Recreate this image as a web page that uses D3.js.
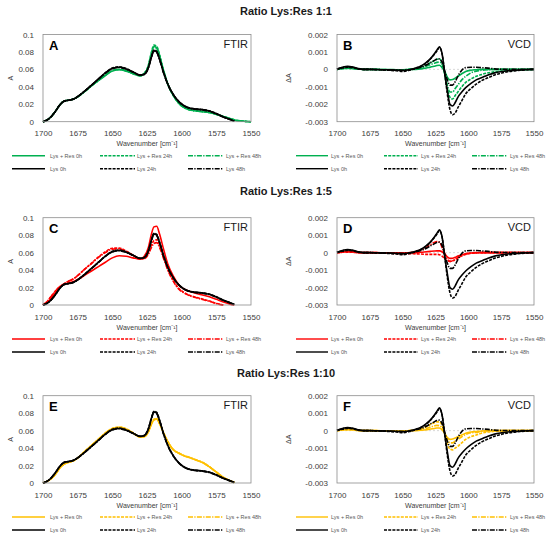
<!DOCTYPE html>
<html>
<head>
  <meta charset="utf-8">
  <script src="https://d3js.org/d3.v7.min.js"></script>
  <style>
    body { margin: 0; background: #ffffff; font-family: "Liberation Sans", Arial, sans-serif; }
    .title { font-weight: bold; font-size: 11px; fill: #1a1a1a; text-anchor: middle; }
    .letter { font-weight: bold; font-size: 13px; fill: #000000; }
    .kind { font-size: 11px; fill: #1a1a1a; text-anchor: end; }
    .axis_title { font-size: 7px; fill: #404040; text-anchor: middle; }
    .legend_label { font-size: 5.5px; fill: #595959; }
    .box { fill: none; stroke: #8c8c8c; stroke-width: 0.8; }
    .zero { stroke: #c8c8c8; stroke-width: 0.7; stroke-dasharray: 2,2; }
    .curve { fill: none; stroke-width: 1.6; stroke-linejoin: round; }
  </style>
  <title>Lys:Res FTIR / VCD</title>
</head>
<body>
  <svg id="chart"></svg>

  <script>
    // ---- data ----
    const xTicks = [1700, 1675, 1650, 1625, 1600, 1575, 1550]
    const ftirTicks = [0, 0.02, 0.04, 0.06, 0.08, 0.1]
    const vcdTicks = [-0.003, -0.002, -0.001, 0, 0.001, 0.002]

    const ratios = ["Ratio Lys:Res 1:1", "Ratio Lys:Res 1:5", "Ratio Lys:Res 1:10"]
    const letters = ["A", "B", "C", "D", "E", "F"]
    const resLabels = ["Lys + Res 0h", "Lys + Res 24h", "Lys + Res 48h"]
    const lysLabels = ["Lys 0h", "Lys 24h", "Lys 48h"]

    const ftirWavenumber = [
      1700, 1697, 1694, 1691, 1688, 1685, 1682, 1678, 1674, 1670,
      1665, 1660, 1655, 1650, 1645, 1640, 1635, 1630, 1627, 1624,
      1622, 1620, 1618, 1616, 1613, 1610, 1606, 1602, 1598, 1594,
      1590, 1585, 1580, 1575, 1570, 1565, 1562, 1558, 1554, 1550
    ]

    const ftirLys0h = [
      0, .002, .006, .012, .019, .0235, .0245, .026, .030, .035,
      .042, .049, .056, .061, .0625, .0605, .057, .0535, .0545, .062,
      .073, .0815, .080, .072, .056, .043, .031, .023, .018, .0155,
      .0145, .0138, .0122, .0092, .0055, .0025, .0005, null, null, null
    ]
    const ftirLys24h = [
      0, .002, .006, .012, .019, .0235, .0245, .026, .030, .035,
      .042, .049, .056, .0615, .063, .061, .057, .0535, .0545, .0625,
      .0735, .0822, .0808, .0725, .0565, .0432, .0312, .0232, .0182, .0157,
      .0147, .014, .0124, .0094, .0056, .0026, .0005, null, null, null
    ]
    const ftirLys48h = [
      0, .002, .006, .0118, .0188, .0232, .0243, .0258, .0298, .0348,
      .0418, .0488, .0558, .0608, .0622, .0602, .0568, .0533, .0542, .0615,
      .0725, .081, .0795, .0715, .0555, .0428, .0308, .0228, .0178, .0153,
      .0143, .0136, .012, .009, .0054, .0024, .0004, null, null, null
    ]

    const ftirRes1_0h = [
      0, .002, .006, .012, .019, .0235, .0245, .026, .0295, .0345,
      .041, .047, .053, .058, .0595, .058, .055, .0525, .0552, .064,
      .077, .0862, .085, .076, .058, .043, .030, .021, .016, .0135,
      .0125, .0115, .0105, .0085, .006, .0035, .002, .001, .0004, 0
    ]
    const ftirRes1_24h = [
      0, .002, .006, .012, .019, .0235, .0245, .026, .0297, .0347,
      .0413, .0475, .0535, .0585, .060, .0585, .0553, .0527, .0555, .0648,
      .0785, .0878, .0865, .0772, .0588, .0435, .0302, .0212, .0162, .0137,
      .0127, .0117, .0106, .0086, .0061, .0036, .0021, .0011, .0004, 0
    ]
    const ftirRes1_48h = [
      0, .002, .006, .012, .019, .0235, .0245, .026, .0296, .0346,
      .0412, .0473, .0533, .0583, .0598, .0582, .0551, .0526, .0553, .0635,
      .0765, .0852, .0842, .0755, .0578, .043, .0299, .0209, .0159, .0134,
      .0124, .0114, .0104, .0084, .0059, .0034, .002, .001, .0004, 0
    ]

    const ftirRes5_0h = [
      0, .003, .008, .014, .020, .0235, .025, .027, .030, .034,
      .039, .044, .049, .054, .0565, .0558, .054, .0525, .0558, .066,
      .080, .0895, .0902, .0815, .0635, .047, .033, .023, .018, .0155,
      .0135, .0115, .0095, .0065, .0035, .001, 0, null, null, null
    ]
    const ftirRes5_24h = [
      0, .004, .010, .016, .021, .024, .027, .030, .035, .041,
      .048, .055, .061, .065, .0652, .0618, .057, .053, .0535, .0598,
      .068, .0738, .0748, .069, .055, .041, .028, .019, .014, .011,
      .009, .0068, .0045, .0018, 0, null, null, null, null, null
    ]
    const ftirRes5_48h = [
      0, .004, .010, .016, .021, .024, .027, .030, .035, .0408,
      .0475, .0545, .060, .064, .0642, .061, .0568, .0528, .053, .058,
      .0652, .0705, .0715, .066, .053, .040, .027, .018, .0135, .0105,
      .0085, .0063, .0042, .0016, 0, null, null, null, null, null
    ]

    const ftirRes10_0h = [
      0, .002, .005, .010, .017, .0215, .0235, .0255, .030, .036,
      .043, .050, .057, .062, .0635, .0615, .057, .0525, .053, .0585,
      .0665, .0722, .073, .068, .057, .047, .038, .034, .031, .029,
      .0265, .0235, .0185, .0125, .0065, .0025, .0005, null, null, null
    ]
    const ftirRes10_24h = [
      0, .002, .005, .010, .0168, .0213, .0233, .0254, .0299, .036,
      .0432, .0503, .0573, .0625, .0642, .0622, .0575, .0528, .0532, .059,
      .0672, .073, .0738, .0688, .0575, .0475, .0383, .0343, .0313, .0292,
      .0267, .0237, .0187, .0126, .0066, .0025, .0005, null, null, null
    ]
    const ftirRes10_48h = [
      0, .002, .005, .010, .0169, .0214, .0234, .0255, .030, .036,
      .0431, .0502, .0572, .0623, .0638, .0618, .0572, .0526, .0531, .0588,
      .0668, .0726, .0734, .0684, .0572, .0472, .0381, .0341, .0311, .0291,
      .0266, .0236, .0186, .0125, .0065, .0025, .0005, null, null, null
    ]

    const vcdWavenumber = [
      1700, 1696, 1692, 1688, 1684, 1680, 1675, 1670, 1665, 1660,
      1655, 1650, 1645, 1640, 1636, 1632, 1629, 1626, 1624, 1622,
      1620, 1618, 1616, 1614, 1612, 1610, 1608, 1605, 1602, 1598,
      1594, 1590, 1585, 1580, 1575, 1570, 1565, 1560, 1555, 1550
    ]

    const vcdLys0h = [
      .00002, .00012, .00018, .00014, .00005, 0, 0, -.00001, -.00002, -.00003,
      -.00004, -.00006, -.00002, .00008, .0002, .0004, .0006, .00088, .0011, .0013,
      .0009, -.0002, -.0012, -.002, -.0021, -.0019, -.0016, -.0013, -.00105, -.0008,
      -.0006, -.00048, -.00032, -.0002, -.00013, -.00008, -.00005, -.00003, -.00001, 0
    ]
    const vcdLys24h = [
      0, .00008, .00012, .0001, .00003, 0, 0, -.00002, -.00003, -.00005,
      -.00008, -.00012, -.00005, .00006, .00018, .00038, .00058, .00085, .00105, .00125,
      .0009, -.0002, -.0014, -.0023, -.0026, -.0025, -.0022, -.0018, -.0014, -.0011,
      -.00085, -.00065, -.00048, -.00032, -.00022, -.00014, -.00009, -.00005, -.00002, 0
    ]
    const vcdLys48h = [
      .00002, .0001, .00015, .00012, .00004, 0, 0, -.00001, -.00002, -.00003,
      -.00004, -.00005, -.00002, .00005, .00012, .00025, .00038, .0005, .00058, .0006,
      .0004, -.0001, -.0006, -.0009, -.0009, -.0007, -.0004, -.00005, .0001, .00012,
      .00012, .0001, .00007, .00003, .00001, 0, 0, 0, 0, 0
    ]

    const vcdRes1_0h = [
      0, .00005, .00008, .00006, .00002, 0, 0, 0, -.00001, -.00001,
      -.00002, -.00002, -.00001, 0, .00003, .00008, .00013, .00018, .00022, .00024,
      .0001, -.0001, -.00045, -.0006, -.00058, -.0005, -.0004, -.00025, -.00012, -.00005,
      -.00002, 0, 0, 0, 0, 0, 0, 0, 0, 0
    ]
    const vcdRes1_24h = [
      0, .00004, .00006, .00005, .00002, 0, 0, -.00001, -.00002, -.00002,
      -.00003, -.00004, 0, .00005, .00012, .00025, .00038, .0005, .00058, .0006,
      .0004, -.0003, -.0011, -.0016, -.0017, -.0015, -.0013, -.001, -.00075, -.00055,
      -.0004, -.0003, -.0002, -.00014, -.0001, -.00007, -.00005, -.00003, -.00001, 0
    ]
    const vcdRes1_48h = [
      0, .00004, .00007, .00005, .00002, 0, 0, 0, -.00001, -.00002,
      -.00002, -.00003, 0, .00004, .0001, .00018, .00027, .00035, .0004, .00042,
      .0003, -.0002, -.0009, -.0013, -.0013, -.0011, -.0009, -.0006, -.0004, -.0002,
      -.0001, -.00005, -.00002, 0, 0, 0, 0, 0, 0, 0
    ]

    const vcdRes5_0h = [
      0, .00004, .00006, .00004, .00001, 0, 0, 0, -.00001, -.00001,
      -.00001, -.00002, -.00001, 0, .00002, .00005, .00007, .00009, .0001, .0001,
      .00005, -.00008, -.00025, -.00033, -.00032, -.00027, -.0002, -.00012, -.00006, -.00002,
      -.00001, 0, 0, 0, 0, 0, 0, 0, 0, 0
    ]
    const vcdRes5_24h = [
      0, .00002, .00003, .00002, 0, -.00001, -.00002, -.00002, -.00003, -.00003,
      -.00005, -.00006, -.00006, -.00007, -.00008, -.0001, -.0001, -.0001, -.0001, -.00012,
      -.0002, -.00035, -.00047, -.0005, -.00046, -.0004, -.0003, -.00018, -.0001, -.00004,
      -.00002, 0, 0, 0, 0, 0, 0, 0, 0, 0
    ]
    const vcdRes5_48h = [
      0, .00003, .00005, .00004, .00001, 0, 0, 0, -.00001, -.00002,
      -.00002, -.00003, 0, .00005, .00015, .0003, .00045, .00058, .00063, .0006,
      .0003, -.00005, -.00035, -.0005, -.00048, -.0004, -.0003, -.00018, -.00008, -.00002,
      0, 0, 0, 0, 0, 0, 0, 0, 0, 0
    ]

    const vcdRes10_0h = [
      0, .00004, .00007, .00005, .00002, 0, 0, 0, -.00001, -.00001,
      -.00002, -.00002, -.00001, 0, .00002, .00005, .00009, .00012, .00015, .00015,
      .00005, -.00015, -.0004, -.0005, -.00048, -.00042, -.00035, -.00025, -.00015, -.00008,
      -.00005, -.00002, 0, 0, 0, 0, 0, 0, 0, 0
    ]
    const vcdRes10_24h = [
      0, .00003, .00005, .00004, .00001, 0, 0, -.00001, -.00002, -.00002,
      -.00003, -.00004, 0, .00004, .0001, .00022, .00035, .00045, .0005, .0005,
      .0003, -.0002, -.0008, -.00105, -.0011, -.001, -.0009, -.0007, -.0005, -.00035,
      -.00025, -.00015, -.00008, -.00004, -.00002, 0, 0, 0, 0, 0
    ]
    const vcdRes10_48h = [
      0, .00003, .00006, .00004, .00001, 0, 0, 0, -.00001, -.00002,
      -.00002, -.00003, 0, .00003, .00005, .00012, .0002, .00027, .0003, .00028,
      .00015, -.00015, -.0005, -.0007, -.0007, -.0006, -.0005, -.00035, -.00022, -.00012,
      -.0001, -.00005, -.00002, 0, 0, 0, 0, 0, 0, 0
    ]

    // ---- layout ----
    const width = 550
    const height = 538

    const colors = ["#00b050", "#ff0000", "#ffc000"]
    const dashes = [null, "3,1.2", "5,1.3,1.3,1.3"]

    const cols = [
      {left: 43, right: 251, yTitleX: 11, legendLines: [[12, 45], [100, 135], [188, 223]], legendText: [50, 137, 226]},
      {left: 337, right: 534, yTitleX: 289, legendLines: [[296, 328], [384, 418], [472, 507]], legendText: [331, 421, 510]}
    ]
    const rows = [
      {top: 34.5, bottom: 121.7, titleY: 15},
      {top: 217.7, bottom: 305, titleY: 195},
      {top: 395.7, bottom: 483, titleY: 377}
    ]

    const resFtir = [
      [ftirRes1_0h, ftirRes1_24h, ftirRes1_48h],
      [ftirRes5_0h, ftirRes5_24h, ftirRes5_48h],
      [ftirRes10_0h, ftirRes10_24h, ftirRes10_48h]
    ]
    const resVcd = [
      [vcdRes1_0h, vcdRes1_24h, vcdRes1_48h],
      [vcdRes5_0h, vcdRes5_24h, vcdRes5_48h],
      [vcdRes10_0h, vcdRes10_24h, vcdRes10_48h]
    ]
    const lysFtir = [ftirLys0h, ftirLys24h, ftirLys48h]
    const lysVcd = [vcdLys0h, vcdLys24h, vcdLys48h]

    const svg = d3.select("#chart")
      .attr("width", width)
      .attr("height", height)

    svg.selectAll(".title")
      .data(ratios)
      .enter()
      .append("text")
      .attr("class", "title")
      .attr("x", 286)
      .attr("y", (d, i) => rows[i].titleY)
      .text(d => d)

    function tickLabel(d) {
      return d === 0 ? "0" : String(+d.toFixed(3))
    }

    function drawPanel(r, c) {
      const row = rows[r]
      const col = cols[c]
      const isVcd = c === 1
      const wn = isVcd ? vcdWavenumber : ftirWavenumber

      const xScale = d3.scaleLinear().domain([1700, 1550]).range([col.left, col.right])
      const yScale = d3.scaleLinear()
        .domain(isVcd ? [-0.003, 0.002] : [0, 0.1])
        .range([row.bottom, row.top])

      const g = svg.append("g")

      const xAxis = g.append("g")
        .attr("transform", `translate(0,${row.bottom})`)
        .call(d3.axisBottom(xScale).tickValues(xTicks).tickSize(0).tickPadding(9).tickFormat(d3.format("d")))
      const yAxis = g.append("g")
        .attr("transform", `translate(${col.left},0)`)
        .call(d3.axisLeft(yScale).tickValues(isVcd ? vcdTicks : ftirTicks).tickSize(0).tickPadding(9).tickFormat(tickLabel))

      ;[xAxis, yAxis].forEach(a => {
        a.select(".domain").remove()
        a.attr("font-size", 8).attr("font-family", "Liberation Sans, Arial, sans-serif")
        a.selectAll("text").attr("fill", "#404040")
      })

      if (isVcd) {
        g.append("line")
          .attr("class", "zero")
          .attr("x1", col.left)
          .attr("x2", col.right)
          .attr("y1", yScale(0))
          .attr("y2", yScale(0))
      }

      const line = d3.line()
        .defined(d => d[1] !== null)
        .x(d => xScale(d[0]))
        .y(d => yScale(d[1]))
        .curve(d3.curveMonotoneX)

      const series = []
      const res = isVcd ? resVcd[r] : resFtir[r]
      const lys = isVcd ? lysVcd : lysFtir
      res.forEach((v, i) => series.push({values: v, color: colors[r], dash: dashes[i]}))
      lys.forEach((v, i) => series.push({values: v, color: "#000000", dash: dashes[i]}))

      g.selectAll(".curve")
        .data(series)
        .enter()
        .append("path")
        .attr("class", "curve")
        .attr("stroke", d => d.color)
        .attr("stroke-dasharray", d => d.dash)
        .attr("d", d => line(d.values.map((v, i) => [wn[i], v])))

      g.append("rect")
        .attr("class", "box")
        .attr("x", col.left)
        .attr("y", row.top)
        .attr("width", col.right - col.left)
        .attr("height", row.bottom - row.top)

      g.append("text")
        .attr("class", "letter")
        .attr("x", col.left + 6)
        .attr("y", row.top + 15.5)
        .text(letters[r * 2 + c])

      g.append("text")
        .attr("class", "kind")
        .attr("x", col.right - 3)
        .attr("y", row.top + 13.5)
        .text(isVcd ? "VCD" : "FTIR")

      g.append("text")
        .attr("class", "axis_title")
        .attr("transform", `translate(${col.yTitleX},${(row.top + row.bottom) / 2}) rotate(-90)`)
        .attr("dy", "0.35em")
        .text(isVcd ? "ΔA" : "A")

      g.append("text")
        .attr("class", "axis_title")
        .attr("x", (col.left + col.right) / 2)
        .attr("y", row.bottom + 24.5)
        .text("Wavenumber [cm⁻¹]")

      // legend: coloured row, then black row
      const legend = []
      resLabels.forEach((l, i) => legend.push({label: l, color: colors[r], dash: dashes[i], i: i, y: row.bottom + 34}))
      lysLabels.forEach((l, i) => legend.push({label: l, color: "#000000", dash: dashes[i], i: i, y: row.bottom + 47}))

      g.selectAll(".legend_line")
        .data(legend)
        .enter()
        .append("line")
        .attr("class", "legend_line")
        .attr("x1", d => col.legendLines[d.i][0])
        .attr("x2", d => col.legendLines[d.i][1])
        .attr("y1", d => d.y)
        .attr("y2", d => d.y)
        .attr("stroke", d => d.color)
        .attr("stroke-width", 1.4)
        .attr("stroke-dasharray", d => d.dash)

      g.selectAll(".legend_label")
        .data(legend)
        .enter()
        .append("text")
        .attr("class", "legend_label")
        .attr("x", d => col.legendText[d.i])
        .attr("y", d => d.y)
        .attr("dy", "0.35em")
        .text(d => d.label)
    }

    for (let r = 0; r < 3; r++) {
      drawPanel(r, 0)
      drawPanel(r, 1)
    }
  </script>
</body>
</html>
